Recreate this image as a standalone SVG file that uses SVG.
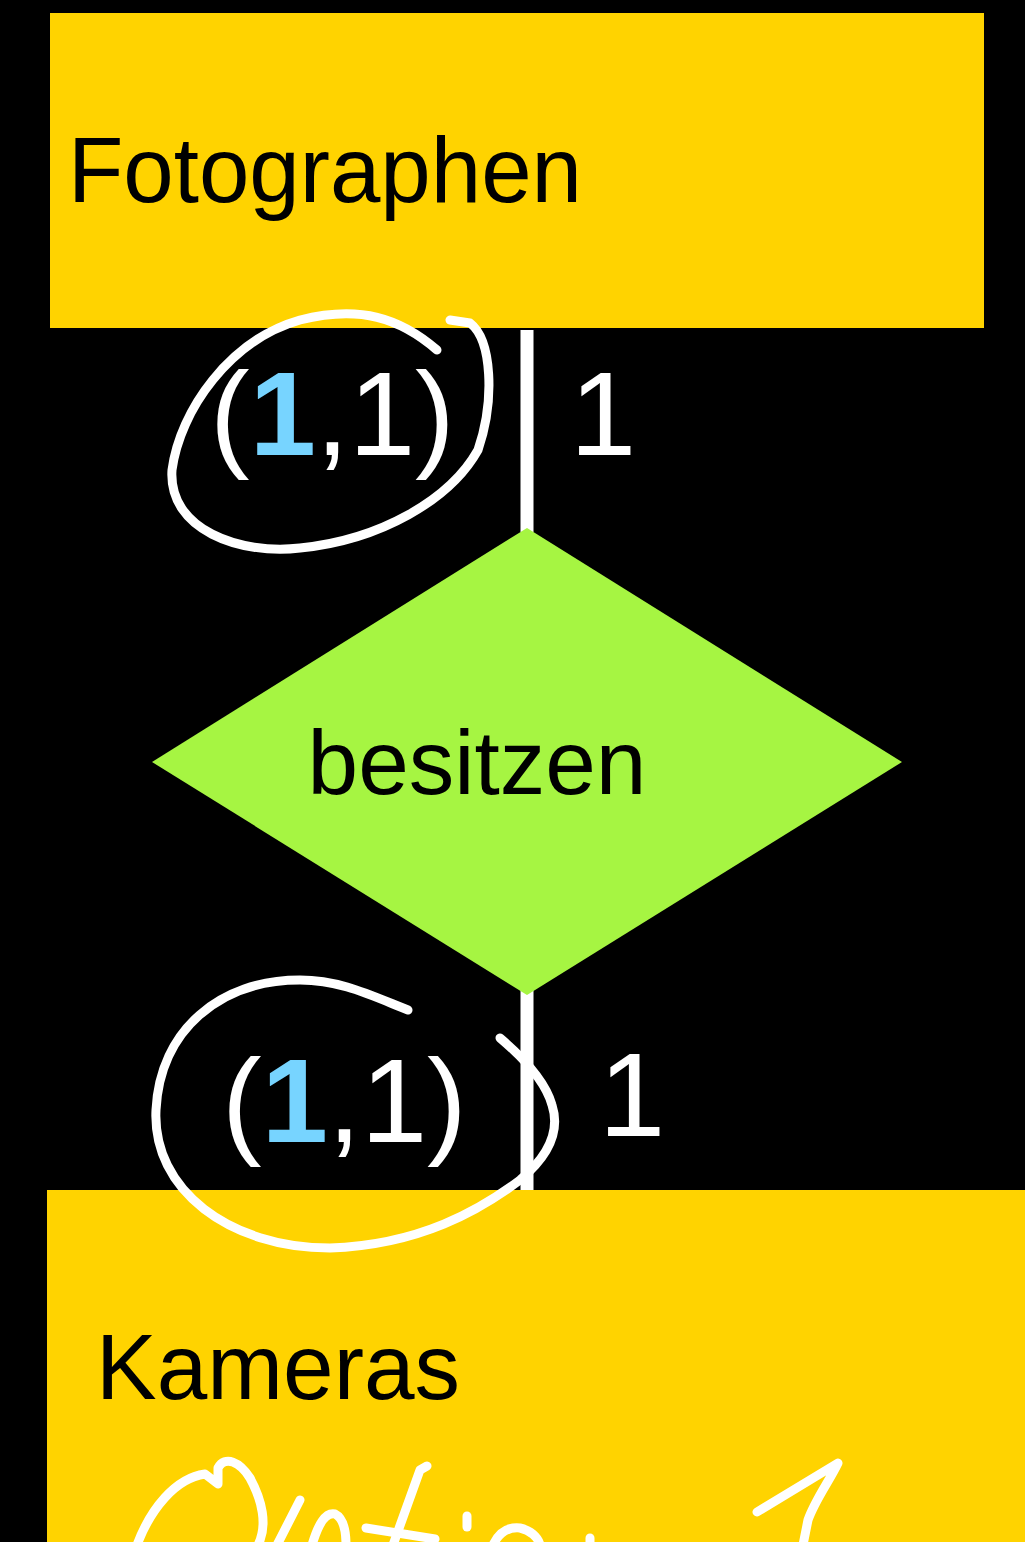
<svg xmlns="http://www.w3.org/2000/svg" width="1025" height="1542" viewBox="0 0 1025 1542">
  <style>
    .entity { fill: #FFD300; }
    .rel { fill: #A6F542; }
    .label { font-family: "Liberation Sans", Arial, sans-serif; fill: #000000; }
    .card { font-family: "Liberation Sans", Arial, sans-serif; fill: #FFFFFF; font-size: 119px; }
    .blue { fill: #77D4FF; font-weight: bold; }
    .edge { stroke: #FFFFFF; stroke-width: 13; fill: none; }
    .ink { stroke: #FFFFFF; stroke-width: 9; fill: none; stroke-linecap: round; stroke-linejoin: round; }
  </style>
  <rect x="0" y="0" width="1025" height="1542" fill="#000000"/>

  <g id="connectors">
    <line class="edge" x1="527" y1="330" x2="527" y2="532"/>
    <line class="edge" x1="527" y1="990" x2="527" y2="1190"/>
  </g>

  <g id="node-fotographen">
    <rect class="entity" x="50" y="13" width="934" height="315"/>
    <text class="label" x="68" y="202" font-size="92" textLength="514" lengthAdjust="spacingAndGlyphs">Fotographen</text>
  </g>

  <g id="node-besitzen">
    <polygon class="rel" points="527,528 902,762 527,995 152,762"/>
    <text class="label" x="477" y="794" font-size="91" text-anchor="middle">besitzen</text>
  </g>

  <g id="node-kameras">
    <rect class="entity" x="47" y="1190" width="978" height="352"/>
    <text class="label" x="96" y="1399" font-size="92" textLength="364" lengthAdjust="spacingAndGlyphs">Kameras</text>
  </g>

  <g id="cardinalities">
    <text class="card" x="210" y="455">(<tspan class="blue">1</tspan>,1)</text>
    <text class="card" x="570" y="455">1</text>
    <text class="card" x="222" y="1142">(<tspan class="blue">1</tspan>,1)</text>
    <text class="card" x="599" y="1136">1</text>
  </g>

  <g id="annotations">
    <path class="ink" d="M437,350 C400,318 360,305 300,320 C230,340 180,410 172,470 C168,530 240,555 300,548 C380,540 450,500 478,450 C495,400 492,340 470,323 L450,320"/>
    <path class="ink" d="M408,1010 C370,995 340,980 300,980 C220,980 160,1030 156,1110 C152,1190 230,1248 330,1248 C420,1245 480,1210 520,1180 C550,1155 560,1130 552,1105 C545,1080 520,1055 500,1038"/>
    <path class="ink" stroke-width="11" d="M137,1545 C150,1510 175,1478 205,1474 L218,1484 L218,1468 C225,1455 240,1462 250,1478 C262,1500 268,1525 258,1545"/>
    <path class="ink" stroke-width="11" d="M300,1500 L277,1545"/>
    <path class="ink" stroke-width="11" d="M312,1545 C318,1525 325,1512 335,1514 C343,1518 346,1530 346,1545"/>
    <path class="ink" stroke-width="11" d="M427,1466 L420,1470 L393,1545"/>
    <path class="ink" stroke-width="11" d="M366,1528 L435,1539"/>
    <path class="ink" stroke-width="11" d="M467,1516 L467,1527"/>
    <path class="ink" stroke-width="11" d="M493,1545 C500,1530 510,1527 520,1528 C530,1530 538,1537 540,1545"/>
    <path class="ink" stroke-width="11" d="M590,1538 L590,1545"/>
    <path class="ink" stroke-width="11" d="M757,1512 L838,1463 C830,1480 815,1500 808,1520 L803,1545"/>
  </g>
</svg>
